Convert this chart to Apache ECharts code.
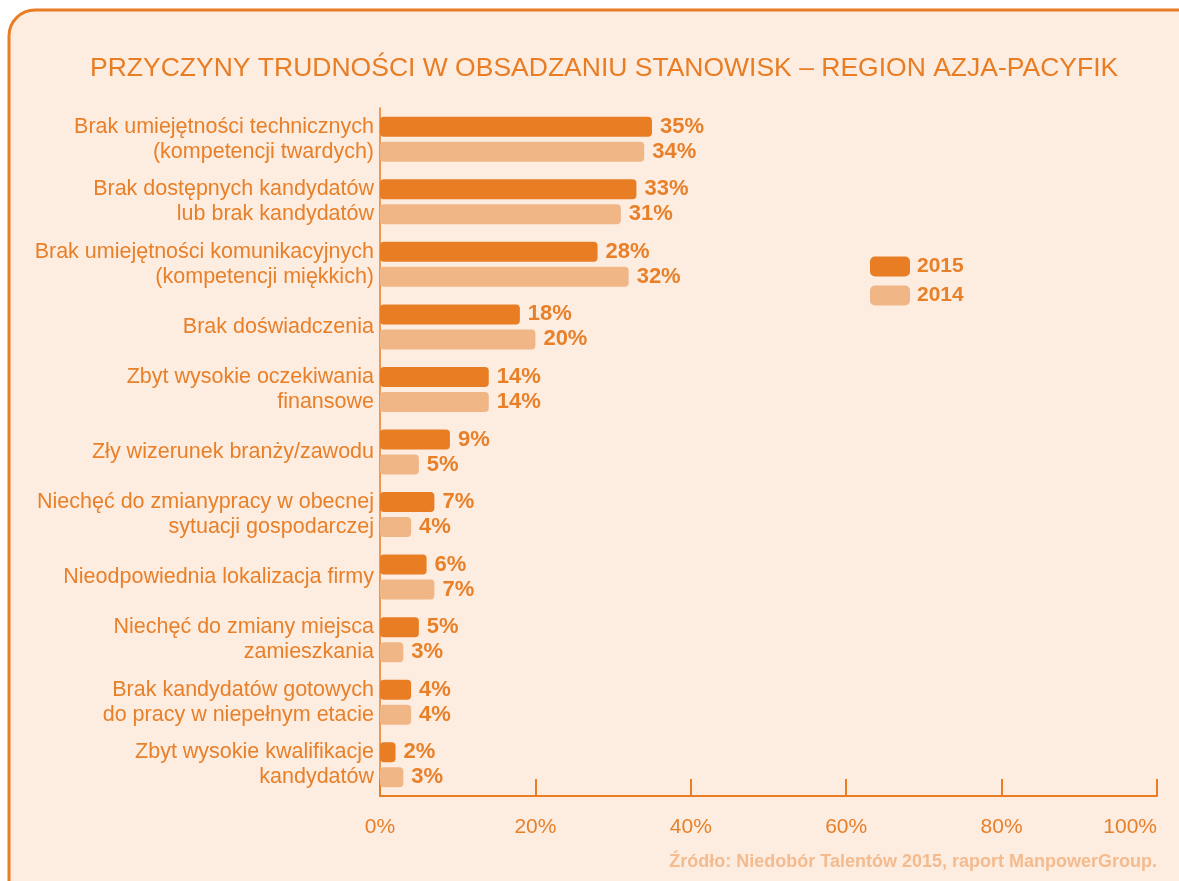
<!DOCTYPE html>
<html><head><meta charset="utf-8">
<script src="https://cdn.jsdelivr.net/npm/echarts@6/dist/echarts.min.js"></script>
<style>html,body{margin:0;padding:0;background:#fff;}#c{width:1179px;height:881px;}</style>
</head><body><div id="c"></div>
<script>
const titleText = 'PRZYCZYNY TRUDNOŚCI W OBSADZANIU STANOWISK – REGION AZJA-PACYFIK';
const categories = [
  'Brak umiejętności technicznych\n(kompetencji twardych)',
  'Brak dostępnych kandydatów\nlub brak kandydatów',
  'Brak umiejętności komunikacyjnych\n(kompetencji miękkich)',
  'Brak doświadczenia',
  'Zbyt wysokie oczekiwania\nfinansowe',
  'Zły wizerunek branży/zawodu',
  'Niechęć do zmianypracy w obecnej\nsytuacji gospodarczej',
  'Nieodpowiednia lokalizacja firmy',
  'Niechęć do zmiany miejsca\nzamieszkania',
  'Brak kandydatów gotowych\ndo pracy w niepełnym etacie',
  'Zbyt wysokie kwalifikacje\nkandydatów'
];
const seriesNames = ['2015', '2014'];
const values2015 = [35, 33, 28, 18, 14, 9, 7, 6, 5, 4, 2];
const values2014 = [34, 31, 32, 20, 14, 5, 4, 7, 3, 4, 3];
const xTicks = [0, 20, 40, 60, 80, 100];
const sourceText = 'Źródło: Niedobór Talentów 2015, raport ManpowerGroup.';

const ORANGE = '#e87d24';
const LIGHT = '#f1b686';
const TXT = '#e8802a';
const FONT = '"Liberation Sans", Arial, sans-serif';

const chart = echarts.init(document.getElementById('c'));
const labelStyle = {show: true, position: 'right', distance: 8, color: TXT, fontSize: 22, fontWeight: 'bold', fontFamily: FONT, formatter: p => p.value + '%'};
chart.setOption({
  backgroundColor: '#ffffff',
  animation: false,
  graphic: [{
    type: 'rect', z: -10, silent: true,
    shape: {x: 9, y: 10, width: 1220, height: 930, r: 26},
    style: {fill: '#fdece0', stroke: ORANGE, lineWidth: 3}
  }, {
    type: 'text', right: 22, top: 853,
    style: {text: sourceText, fill: '#f3bb8e', font: 'bold 18px ' + FONT}
  }],
  title: {
    text: titleText, left: 85, top: 50,
    textStyle: {color: ORANGE, fontSize: 26.5, fontWeight: 'normal', fontFamily: FONT}
  },
  legend: {
    orient: 'vertical', left: 865, top: 251,
    itemWidth: 40, itemHeight: 20, itemGap: 8, icon: 'roundRect',
    textStyle: {color: TXT, fontSize: 21, fontWeight: 'bold', fontFamily: FONT, padding: [0, 0, 0, 2]},
    data: seriesNames
  },
  grid: {left: 380, right: 22, top: 108, bottom: 85, containLabel: false},
  xAxis: {
    type: 'value', min: 0, max: 100, interval: 20,
    axisLine: {show: true, lineStyle: {color: ORANGE, width: 2}},
    axisTick: {show: true, inside: true, length: 17, lineStyle: {color: ORANGE, width: 2}},
    splitLine: {show: false},
    axisLabel: {color: TXT, fontSize: 21, fontFamily: FONT, margin: 21, alignMaxLabel: 'right', formatter: v => v + '%'}
  },
  yAxis: {
    type: 'category', data: categories, inverse: true,
    axisLine: {show: true, lineStyle: {color: ORANGE, width: 1.5}},
    axisTick: {show: false},
    axisLabel: {color: TXT, fontSize: 21.5, fontFamily: FONT, margin: 6, lineHeight: 25, align: 'right', padding: [2, 0, 0, 0]}
  },
  series: [{
    name: seriesNames[0], type: 'bar', data: values2015, barWidth: 20, barGap: '25%',
    itemStyle: {color: ORANGE, borderRadius: 4}, label: labelStyle
  }, {
    name: seriesNames[1], type: 'bar', data: values2014, barWidth: 20, barGap: '25%',
    itemStyle: {color: LIGHT, borderRadius: 4}, label: labelStyle
  }]
});
</script></body></html>
